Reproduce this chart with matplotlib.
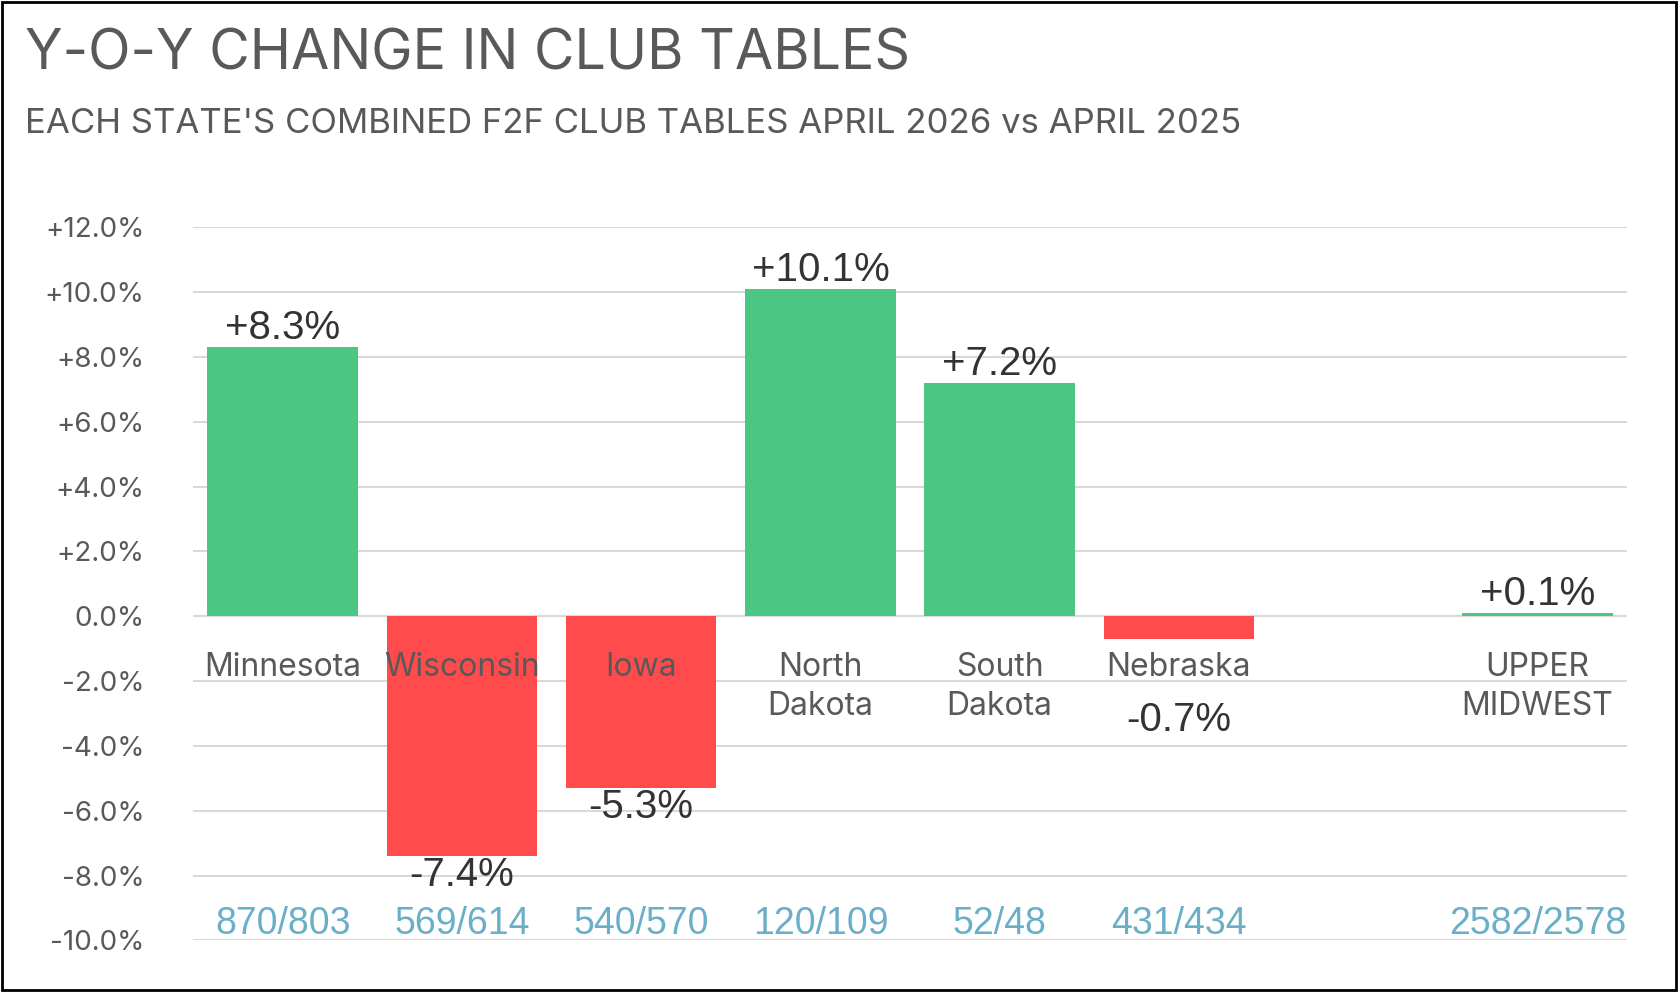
import matplotlib
matplotlib.use('Agg')
import matplotlib.pyplot as plt
from matplotlib.patches import Rectangle

states = ["Minnesota", "Wisconsin", "Iowa", "North\nDakota", "South\nDakota", "Nebraska", "UPPER\nMIDWEST"]
positions = [0, 1, 2, 3, 4, 5, 7]
changes = [8.3, -7.4, -5.3, 10.1, 7.2, -0.7, 0.1]
ratios = ["870/803", "569/614", "540/570", "120/109", "52/48", "431/434", "2582/2578"]
yticks = [-10, -8, -6, -4, -2, 0, 2, 4, 6, 8, 10, 12]

green = "#4CC683"
red = "#FF4B4B"
gray = "#595959"
blue = "#6AAFC8"

fig = plt.figure(figsize=(16.79, 9.92), dpi=100)
ax = fig.add_axes([0.115, 0.052, 0.854, 0.719])

colors = [green if v >= 0 else red for v in changes]
ax.bar(positions, changes, width=0.84, color=colors, zorder=3)

ax.set_xlim(-0.5, 7.5)
ax.set_ylim(-10, 12)
ax.set_yticks(yticks)
ax.set_yticklabels([f"{t:+.1f}%" if t != 0 else "0.0%" for t in yticks],
                   fontsize=20, color=gray, family="Inter")
ax.set_xticks([])
ax.grid(axis="y", color="#d9d9d9", linewidth=1.5, zorder=0)
ax.axhline(0, color="#d9d9d9", linewidth=1.5, zorder=2)
for s in ax.spines.values():
    s.set_visible(False)
ax.tick_params(axis="y", length=0, pad=35)

for x, v, name, r in zip(positions, changes, states, ratios):
    ax.text(x, -1.1, name, ha="center", va="top", fontsize=23, color=gray,
            family="Inter", linespacing=1.35, zorder=4)
    ax.text(x, -9.5, r, ha="center", va="center", fontsize=27, color=blue,
            family="Liberation Sans", zorder=4)
    if v >= 0:
        ax.text(x, v, f"{v:+.1f}%", ha="center", va="bottom", fontsize=29,
                color="#333333", family="Liberation Sans", zorder=4)
    else:
        y = min(v, -3.1) if "\n" not in name else v
        y = v if v < -3.1 else -2.6
        ax.text(x, y, f"{v:.1f}%", ha="center", va="top", fontsize=29,
                color="#333333", family="Liberation Sans", zorder=4)

fig.text(0.015, 0.945, "Y-O-Y CHANGE IN CLUB TABLES", fontsize=40, color=gray,
         family="Inter", va="center")
fig.text(0.015, 0.875, "EACH STATE'S COMBINED F2F CLUB TABLES APRIL 2026 vs APRIL 2025",
         fontsize=25, color=gray, family="Inter", va="center")

fig.patches.append(Rectangle((0.001, 0.002), 0.997, 0.996, transform=fig.transFigure,
                             fill=False, edgecolor="black", linewidth=2))

fig.savefig("out.png", dpi=100, facecolor="white")
